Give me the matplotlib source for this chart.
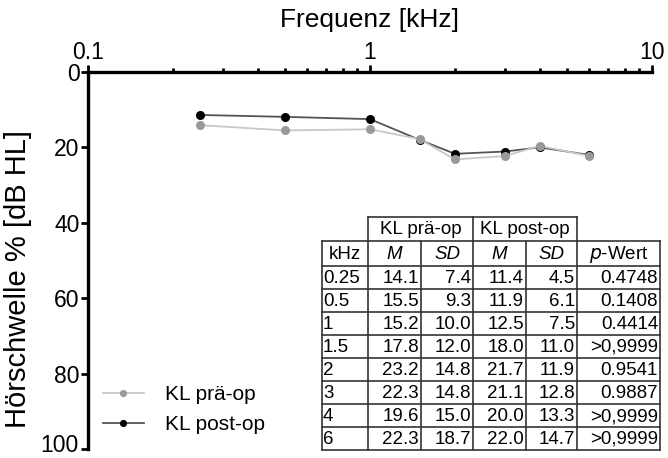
import numpy as np
import matplotlib.pyplot as plt
from matplotlib.ticker import FixedLocator, NullFormatter

plt.rcParams['font.family'] = ['Liberation Sans', 'DejaVu Sans']

# frequencies (kHz) and mean thresholds
FREQ = [0.25, 0.5, 1, 1.5, 2, 3, 4, 6]
FREQ_LABELS = ["0.25", "0.5", "1", "1.5", "2", "3", "4", "6"]
PRE_M = [14.1, 15.5, 15.2, 17.8, 23.2, 22.3, 19.6, 22.3]
PRE_SD = [7.4, 9.3, 10.0, 12.0, 14.8, 14.8, 15.0, 18.7]
POST_M = [11.4, 11.9, 12.5, 18.0, 21.7, 21.1, 20.0, 22.0]
POST_SD = [4.5, 6.1, 7.5, 11.0, 11.9, 12.8, 13.3, 14.7]
P_VALUES = ["0.4748", "0.1408", "0.4414", ">0,9999", "0.9541", "0.9887", ">0,9999", ">0,9999"]
Y_TICKS = [0, 20, 40, 60, 80, 100]

GREY = "#9a9a9a"

fig = plt.figure(figsize=(6.68, 4.58), dpi=100)
W, H = 668, 458

ax = fig.add_axes([88 / W, 1 - 449 / H, (652 - 88) / W, (449 - 72) / H])
ax.plot(FREQ, PRE_M, color="#c8c8c8", lw=1.3, marker="o", ms=5.5,
        mfc=GREY, mec=GREY, label="KL prä-op", zorder=3)
ax.plot(FREQ, POST_M, color="#555555", lw=1.3, marker="o", ms=5.5,
        mfc="black", mec="black", label="KL post-op", zorder=2)

ax.set_xscale("log")
ax.set_xlim(0.1, 10)
ax.set_ylim(100, 0)
ax.xaxis.tick_top()
ax.xaxis.set_label_position("top")
ax.set_xticks([0.1, 1, 10])
ax.set_xticklabels(["0.1", "1", "10"])
ax.xaxis.set_minor_locator(FixedLocator([k * d for d in (0.1, 1) for k in range(2, 10)]))
ax.xaxis.set_minor_formatter(NullFormatter())
ax.set_yticks(Y_TICKS)
# the lowest label is drawn separately so it stays inside the figure
ax.set_yticklabels([str(v) for v in Y_TICKS[:-1]] + [""])
ax.annotate(str(Y_TICKS[-1]), xy=(0, Y_TICKS[-1]), xycoords=("axes fraction", "data"),
            xytext=(-6.5, -6), textcoords="offset points",
            ha="right", va="bottom", fontsize=16.5)

for s in ("right", "bottom"):
    ax.spines[s].set_visible(False)
for s in ("top", "left"):
    ax.spines[s].set_linewidth(2.4)
ax.tick_params(axis="both", which="major", direction="out", length=5, width=2,
               labelsize=16.5, pad=1)
ax.tick_params(axis="x", which="minor", direction="out", length=3, width=2)

ax.set_xlabel("Frequenz [kHz]", fontsize=19, labelpad=10)
ax.set_ylabel("Hörschwelle % [dB HL]", fontsize=21)
ax.yaxis.set_label_coords(-0.1, 0.45)

leg = ax.legend(loc="lower left", bbox_to_anchor=(0.0, 0.0), frameon=False,
                fontsize=15, handlelength=2.0, handletextpad=1.0,
                labelspacing=0.55, markerscale=0.75, borderaxespad=0.3)

# table drawn in pixel coordinates
tax = fig.add_axes([0, 0, 1, 1])
tax.set_xlim(0, W)
tax.set_ylim(H, 0)
tax.axis("off")

cols = [322, 368, 421, 473, 526, 577, 660]
rows = [217, 241, 266] + [266 + 23 * (i + 1) for i in range(len(FREQ))]
lc = "#333333"
lw = 1.2

# grid lines
tax.plot([cols[1], cols[5]], [rows[0], rows[0]], color=lc, lw=lw)
for y in rows[1:]:
    tax.plot([cols[0], cols[6]], [y, y], color=lc, lw=lw)
for i, x in enumerate(cols):
    top = rows[0] if i in (1, 3, 5) else rows[1]
    tax.plot([x, x], [top, rows[-1]], color=lc, lw=lw)

fs = 13.5
ymid = lambda a, b: (a + b) / 2 + 1
tax.text((cols[1] + cols[3]) / 2, ymid(rows[0], rows[1]), "KL prä-op",
         ha="center", va="center", fontsize=fs)
tax.text((cols[3] + cols[5]) / 2, ymid(rows[0], rows[1]), "KL post-op",
         ha="center", va="center", fontsize=fs)
hdr = ["kHz", "M", "SD", "M", "SD", "$p$-Wert"]
for j, h in enumerate(hdr):
    style = "italic" if h in ("M", "SD") else "normal"
    tax.text((cols[j] + cols[j + 1]) / 2, ymid(rows[1], rows[2]), h,
             ha="center", va="center", fontsize=fs, style=style)

for i in range(len(FREQ)):
    yc = ymid(rows[2 + i], rows[3 + i])
    vals = [f"{PRE_M[i]:.1f}", f"{PRE_SD[i]:.1f}", f"{POST_M[i]:.1f}",
            f"{POST_SD[i]:.1f}", P_VALUES[i]]
    tax.text(cols[0] + 1, yc, FREQ_LABELS[i], ha="left", va="center", fontsize=fs)
    for j, v in enumerate(vals):
        tax.text(cols[j + 2] - 2, yc, v, ha="right", va="center", fontsize=fs)

fig.savefig("out.png", dpi=100)
